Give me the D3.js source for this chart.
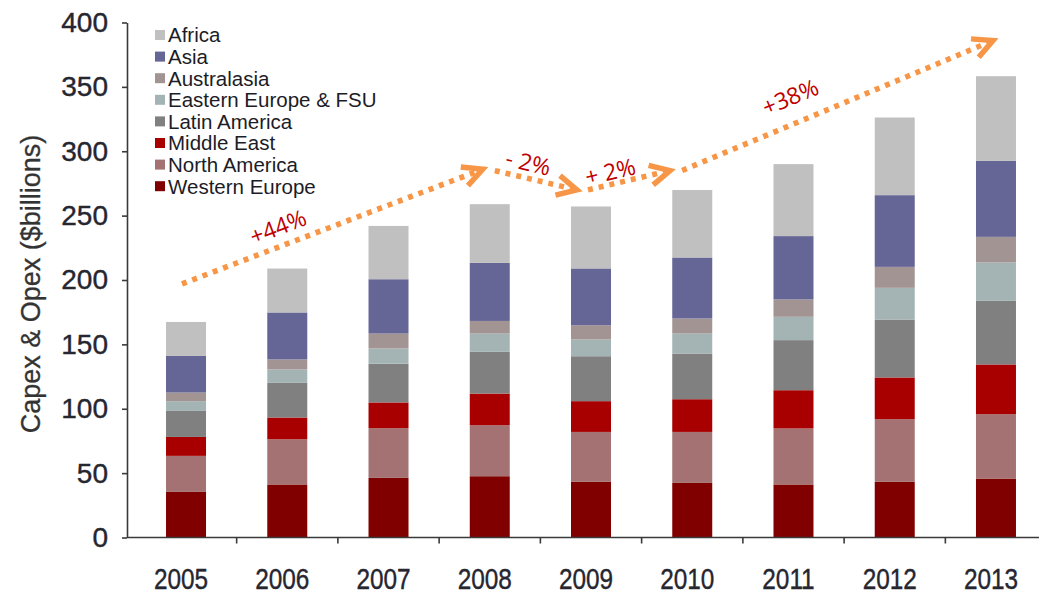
<!DOCTYPE html>
<html>
<head>
<meta charset="utf-8">
<script src="https://cdn.jsdelivr.net/npm/d3@7"></script>
<style>
  html, body { margin: 0; padding: 0; background: #fff; }
  svg { display: block; }
</style>
</head>
<body>
<svg id="chart" width="1039" height="596"></svg>
<script>
// ---- data ----
const years = ["2005", "2006", "2007", "2008", "2009", "2010", "2011", "2012", "2013"];
const regions = ["Western Europe", "North America", "Middle East", "Latin America",
                 "Eastern Europe & FSU", "Australasia", "Asia", "Africa"];
const westernEurope = [35.4, 41.2, 46.3, 47.6, 43.2, 42.4, 41.2, 43.2, 45.8];
const northAmerica  = [28.0, 35.1, 38.6, 39.6, 38.8, 39.6, 43.5, 48.7, 50.0];
const middleEast    = [14.7, 16.9, 20.0, 24.6, 23.9, 25.4, 29.7, 32.4, 38.6];
const latinAmerica  = [20.2, 26.9, 30.1, 32.4, 34.9, 35.5, 38.9, 45.0, 49.4];
const easternEurope = [7.6, 10.4, 11.8, 14.2, 13.0, 15.5, 18.1, 24.6, 29.8];
const australasia   = [6.7, 7.8, 11.6, 9.8, 11.1, 11.7, 13.5, 16.3, 19.9];
const asia          = [28.4, 36.5, 42.2, 45.1, 44.1, 47.4, 49.2, 55.7, 59.0];
const africa        = [26.4, 34.1, 41.4, 45.6, 48.1, 52.4, 55.9, 60.3, 65.8];
const seriesValues = [westernEurope, northAmerica, middleEast, latinAmerica,
                      easternEurope, australasia, asia, africa];
const yTicks = [0, 50, 100, 150, 200, 250, 300, 350, 400];
const legendOrder = ["Africa", "Asia", "Australasia", "Eastern Europe & FSU",
                     "Latin America", "Middle East", "North America", "Western Europe"];
// growth annotations (x in category index units, y in $billions)
const arrowFrom = [[-0.04, 197], [3.05, 285], [3.97, 270], [4.90, 285]];
const arrowTo   = [[2.93, 286], [3.86, 270], [4.78, 285], [7.97, 386]];
const growthLabels = ["+44%", "- 2%", "+ 2%", "+38%"];
const growthLabelAt = [[0.91, 241], [3.38, 291], [4.19, 284], [5.97, 342]];

// ---- styles ----
const colors = {
  "Western Europe": "#800000",
  "North America": "#a47272",
  "Middle East": "#a80000",
  "Latin America": "#808080",
  "Eastern Europe & FSU": "#a4b4b4",
  "Australasia": "#a39494",
  "Asia": "#656596",
  "Africa": "#c0c0c0"
};

const svg = d3.select("#chart");
const table = years.map((yr, i) => {
  const row = { year: yr };
  regions.forEach((r, k) => row[r] = seriesValues[k][i]);
  return row;
});

const y = d3.scaleLinear().domain([0, 400]).range([537.5, 22.5]);
const x = d3.scaleBand().domain(years).range([135.4, 1046.6])
  .paddingInner(0.605).paddingOuter(0.3025);
const step = x.step();
const xi = idx => x(years[0]) + x.bandwidth() / 2 + idx * step;

const stacked = d3.stack().keys(regions)(table);

// bars
svg.append("g").selectAll("g").data(stacked).join("g")
  .attr("fill", d => colors[d.key])
  .selectAll("rect").data(d => d).join("rect")
  .attr("x", d => x(d.data.year))
  .attr("width", x.bandwidth())
  .attr("y", d => y(d[1]))
  .attr("height", d => y(d[0]) - y(d[1]));

// y axis
const axisColor = "#3a3a3a";
const textColor = "#262630";
const yAxis = svg.append("g").attr("transform", "translate(127,0)")
  .call(d3.axisLeft(y).tickValues(yTicks).tickSize(5).tickPadding(14).tickSizeOuter(0));
yAxis.select(".domain").attr("stroke", axisColor).attr("stroke-width", 1.6);
yAxis.selectAll(".tick line").attr("stroke", axisColor).attr("stroke-width", 1.6);
yAxis.selectAll(".tick text")
  .attr("font-family", "'Liberation Sans', Arial, sans-serif")
  .attr("font-size", 28).attr("fill", textColor)
  .attr("stroke", textColor).attr("stroke-width", 0.4);

// x axis baseline
svg.append("line")
  .attr("x1", 127).attr("x2", 1039)
  .attr("y1", y(0)).attr("y2", y(0))
  .attr("stroke", axisColor).attr("stroke-width", 1.6);
// boundary ticks between categories
svg.append("g").selectAll("line").data(years.slice(1)).join("line")
  .attr("x1", (d, i) => xi(i + 0.5)).attr("x2", (d, i) => xi(i + 0.5))
  .attr("y1", y(0)).attr("y2", y(0) + 6)
  .attr("stroke", axisColor).attr("stroke-width", 1.6);
// year labels
svg.append("g").selectAll("text").data(years).join("text")
  .attr("transform", d => `translate(${x(d) + x.bandwidth() / 2 - 5},589) scale(0.84,1)`)
  .attr("text-anchor", "middle")
  .attr("font-family", "'Liberation Sans', Arial, sans-serif")
  .attr("font-size", 29).attr("fill", textColor)
  .attr("stroke", textColor).attr("stroke-width", 0.4)
  .text(d => d);

// y title
svg.append("text")
  .attr("transform", `translate(40,${(y(0) + y(400)) / 2 + 4}) rotate(-90)`)
  .attr("text-anchor", "middle")
  .attr("font-family", "'Liberation Sans', Arial, sans-serif")
  .attr("font-size", 27).attr("fill", "#333")
  .attr("stroke", "#333").attr("stroke-width", 0.3)
  .text("Capex & Opex ($billions)");

// legend
const lg = svg.append("g");
const rows = lg.selectAll("g").data(legendOrder).join("g")
  .attr("transform", (d, i) => `translate(155,${35 + i * 21.6})`);
rows.append("rect").attr("x", 0).attr("y", -5).attr("width", 10).attr("height", 10)
  .attr("fill", d => colors[d]);
rows.append("text").attr("x", 13).attr("y", 0).attr("dy", "0.36em")
  .attr("font-family", "'Liberation Sans', Arial, sans-serif")
  .attr("font-size", 20.5).attr("fill", "#1c1c26")
  .text(d => d);

// growth arrows
const orange = "#f79646";
const ag = svg.append("g");
arrowFrom.forEach((f, k) => {
  const t = arrowTo[k];
  const x1 = xi(f[0]), y1 = y(f[1]), x2 = xi(t[0]), y2 = y(t[1]);
  const th = Math.atan2(y2 - y1, x2 - x1);
  ag.append("line")
    .attr("x1", x1).attr("y1", y1)
    .attr("x2", x2 - 4 * Math.cos(th)).attr("y2", y2 - 4 * Math.sin(th))
    .attr("stroke", orange).attr("stroke-width", 5.5)
    .attr("stroke-dasharray", "5,6");
  const L = 22, a = 27 * Math.PI / 180;
  const p1 = [x2 + L * Math.cos(th + Math.PI - a), y2 + L * Math.sin(th + Math.PI - a)];
  const p2 = [x2 + L * Math.cos(th + Math.PI + a), y2 + L * Math.sin(th + Math.PI + a)];
  ag.append("path")
    .attr("d", `M${p1[0]},${p1[1]}L${x2},${y2}L${p2[0]},${p2[1]}`)
    .attr("fill", "none").attr("stroke", orange).attr("stroke-width", 5.5)
    .attr("stroke-linejoin", "miter");
  const lp = growthLabelAt[k];
  ag.append("text")
    .attr("transform", `translate(${xi(lp[0])},${y(lp[1])}) rotate(${th * 180 / Math.PI})`)
    .attr("text-anchor", "middle").attr("dy", "0.35em")
    .attr("font-family", "'Open Sans', 'Noto Sans', sans-serif")
    .attr("font-size", 23).attr("fill", "#c00000")
    .text(growthLabels[k]);
});
</script>
</body>
</html>
